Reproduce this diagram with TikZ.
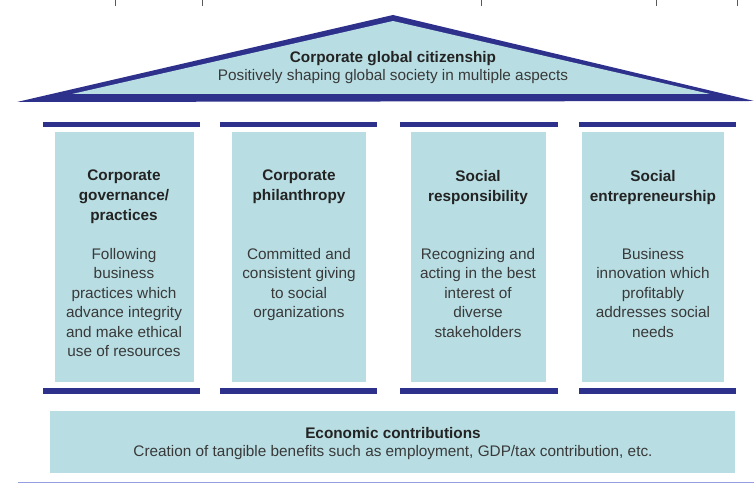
\documentclass[tikz,border=0pt]{standalone}
\usepackage{fontspec}
\setmainfont{Liberation Sans}
\definecolor{roofblue}{RGB}{46,49,140}
\definecolor{pillarfill}{RGB}{184,222,227}
\definecolor{floorline}{RGB}{150,158,225}
\definecolor{textgray}{RGB}{35,35,35}
\tikzset{
    heading/.style={font=\fontsize{11.5}{14.8}\selectfont\bfseries, text=textgray, align=center, inner sep=0pt},
    body/.style={font=\fontsize{11.5}{14.6}\selectfont, text=textgray!90, align=center, inner sep=0pt},
    beam/.style={fill=roofblue},
    pillar/.style={fill=pillarfill}
}
\begin{document}
\begin{tikzpicture}[x=0.75pt, y=0.75pt]
    \useasboundingbox (0, 0) rectangle (754, 485);
    % ticks left over along the top edge
    \draw[gray!70!black, line width=0.6pt] (115, 485) -- ++(0, -6);
    \draw[gray!70!black, line width=0.6pt] (202, 485) -- ++(0, -6);
    \draw[gray!70!black, line width=0.6pt] (481, 485) -- ++(0, -6);
    \draw[gray!70!black, line width=0.6pt] (656, 485) -- ++(0, -6);
    \draw[gray!70!black, line width=0.6pt] (737, 485) -- ++(0, -6);
    % roof
    \fill[roofblue] (17, 383) -- (393, 470) -- (754, 384) -- cycle;
    \fill[pillarfill] (72, 391) -- (393, 464) -- (710, 391) -- cycle;
    \node[heading] (roof) at (393, 426) {Corporate global citizenship};
    \node[body] (roofsub) at (393, 408) {Positively shaping global society in multiple aspects};
    % capitals
    \fill[beam] (43, 358) rectangle (200, 363);
    \fill[beam] (220, 358) rectangle (377, 363);
    \fill[beam] (400, 358) rectangle (558, 363);
    \fill[beam] (579, 358) rectangle (736, 363);
    % pillars
    \fill[pillar] (55, 103) rectangle (194, 353);
    \fill[pillar] (232, 103) rectangle (366, 353);
    \fill[pillar] (411, 103) rectangle (546, 353);
    \fill[pillar] (582, 103) rectangle (724, 353);
    \node[heading, anchor=north] (gov) at (124, 315) {Corporate\\governance/\\practices};
    \node[heading, anchor=north] (phil) at (299, 315) {Corporate\\philanthropy};
    \node[heading, anchor=north] (resp) at (478, 315) {Social\\responsibility};
    \node[heading, anchor=north] (entr) at (653, 315) {Social\\entrepreneurship};
    \node[body, anchor=north] (govtext) at (124, 237) {Following\\business\\practices which\\advance integrity\\and make ethical\\use of resources};
    \node[body, anchor=north] (philtext) at (299, 237) {Committed and\\consistent giving\\to social\\organizations};
    \node[body, anchor=north] (resptext) at (478, 237) {Recognizing and\\acting in the best\\interest of\\diverse\\stakeholders};
    \node[body, anchor=north] (entrtext) at (653, 237) {Business\\innovation which\\profitably\\addresses social\\needs};
    % bases of the pillars
    \fill[beam] (43, 91) rectangle (200, 97);
    \fill[beam] (220, 91) rectangle (377, 97);
    \fill[beam] (400, 91) rectangle (558, 97);
    \fill[beam] (579, 91) rectangle (736, 97);
    % foundation
    \fill[pillar] (50, 12) rectangle (735, 74);
    \node[heading] (econ) at (393, 52) {Economic contributions};
    \node[body] (econsub) at (393, 32) {Creation of tangible benefits such as employment, GDP/tax contribution, etc.};
    \draw[floorline, line width=1pt] (18, 2.5) -- (754, 2.5);
\end{tikzpicture}
\end{document}
